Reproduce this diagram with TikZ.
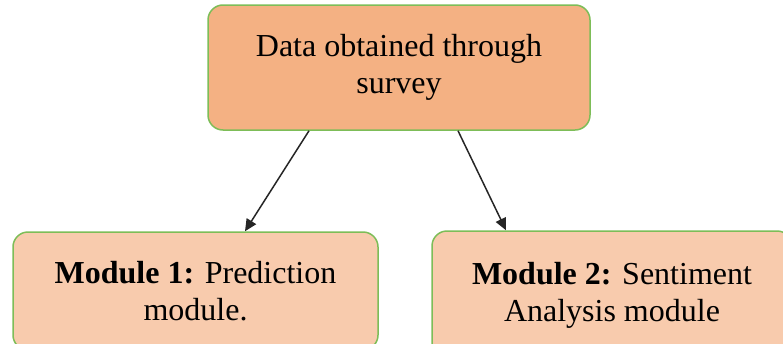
\documentclass[tikz,border=0pt]{standalone}
\usepackage{fontspec}
\setmainfont{Liberation Serif}
\usetikzlibrary{arrows.meta}
\definecolor{topfill}{HTML}{F4B183}
\definecolor{modfill}{HTML}{F8CBAD}
\definecolor{edge}{HTML}{7DBD58}
\definecolor{link}{HTML}{262626}
\tikzset{
  box/.style={draw=edge, line width=1.5pt, rounded corners=15pt, align=center,
    font=\fontsize{32}{37}\selectfont, inner sep=0pt},
  flow/.style={draw=link, line width=1.5pt, -{Triangle[length=12pt,width=11pt]}}
}
\begin{document}
\begin{tikzpicture}[x=1pt,y=1pt]
  \useasboundingbox (0,0) rectangle (783,-343);
  \clip (0,0) rectangle (783,-343);
  \node[box, fill=topfill, minimum width=382pt, minimum height=125pt] (src) at (399,-67.5)
    {Data obtained through\\survey};
  \node[box, fill=modfill, minimum width=365pt, minimum height=118pt] (pred) at (195.5,-291)
    {\textbf{Module 1:} Prediction\\module.};
  \node[box, fill=modfill, minimum width=360pt, minimum height=128pt] (sent) at (612,-295)
    {\textbf{Module 2:} Sentiment\\Analysis module};
  \draw[flow] ([xshift=-90pt]src.south) -- ([xshift=49.5pt]pred.north);
  \draw[flow] ([xshift=59pt]src.south) -- ([xshift=-106pt]sent.north);
\end{tikzpicture}
\end{document}
